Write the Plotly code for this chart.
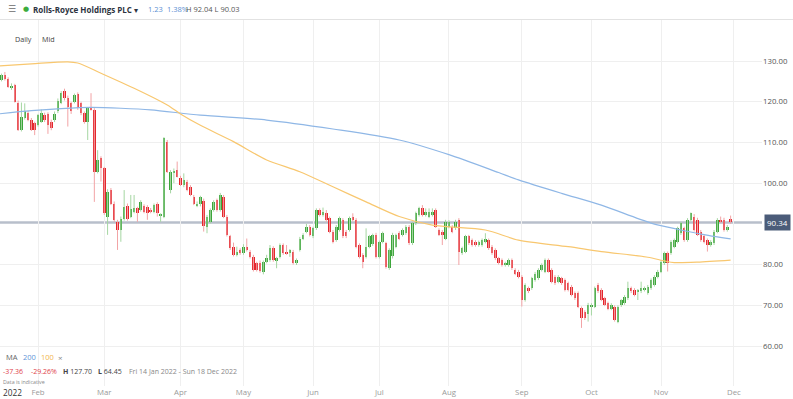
import pandas as pd
import plotly.graph_objects as go

# ---------------- data ----------------
uk_holidays = ["2022-04-15", "2022-04-18", "2022-05-02", "2022-06-02",
               "2022-06-03", "2022-08-29", "2022-09-19"]
axis_days = [d for d in pd.bdate_range("2022-01-14", "2022-12-16")
             if d.strftime("%Y-%m-%d") not in uk_holidays]

month_labels = ["Feb", "Mar", "Apr", "May", "Jun", "Jul", "Aug", "Sep", "Oct", "Nov", "Dec"]
month_numbers = [2, 3, 4, 5, 6, 7, 8, 9, 10, 11, 12]
y_ticks = [60, 70, 80, 100, 110, 120, 130]   # 90.00 sits under the last-price label

opens = [
    127.70, 125.4, 126.5, 125.7, 123.3, 124.1, 119.8, 113.1, 116.0, 117.3,
    115.5, 114.7, 114.3, 115.1, 116.7, 117.0, 115.1, 115.5, 117.6, 119.8,
    122.7, 121.0, 119.6, 120.0, 121.9, 119.6, 117.2, 115.1, 118.4, 118.0,
    102.8, 106.1, 103.6, 91.8, 98.3, 95.0, 90.5, 88.5, 91.3, 94.4,
    91.8, 93.0, 93.8, 93.4, 94.4, 94.2, 93.4, 93.0, 94.9, 91.9,
    91.8, 110.2, 98.3, 102.5, 103.2, 101.2, 99.5, 100.4, 99.1, 96.7,
    94.6, 94.8, 95.6, 89.3, 90.5, 93.4, 95.8, 93.4, 96.7, 91.8,
    86.9, 84.4, 82.4, 83.6, 82.8, 84.4, 83.2, 81.9, 80.3, 80.5,
    78.3, 80.7, 81.1, 84.0, 81.1, 81.9, 84.8, 83.2, 82.8, 83.2,
    80.3, 83.6, 86.4, 88.1, 89.3, 86.9, 88.9, 93.4, 92.2, 92.6,
    91.4, 88.1, 86.0, 88.5, 91.0, 88.1, 88.5, 91.8, 91.0, 84.8,
    82.3, 81.9, 84.4, 85.0, 87.3, 81.9, 85.6, 85.2, 79.1, 82.0,
    84.4, 87.7, 87.3, 87.7, 89.3, 85.2, 90.1, 92.2, 93.8, 92.2,
    91.8, 92.2, 93.4, 88.5, 88.1, 86.4, 89.3, 89.3, 88.9, 91.0,
    82.8, 83.2, 86.9, 86.0, 85.6, 84.8, 84.8, 85.6, 86.0, 84.4,
    83.6, 81.5, 81.1, 79.9, 79.9, 81.1, 78.7, 78.3, 77.0, 71.3,
    74.2, 74.2, 76.2, 76.6, 78.7, 78.3, 81.1, 78.7, 77.0, 75.8,
    76.6, 76.2, 75.4, 74.6, 73.0, 73.0, 69.3, 68.4, 67.9, 69.7,
    69.7, 75.0, 73.8, 71.7, 70.5, 69.2, 69.6, 66.0, 70.0, 70.5,
    71.7, 74.2, 73.8, 73.4, 73.4, 73.8, 73.0, 74.2, 75.0, 77.0,
    78.3, 80.3, 82.8, 82.8, 84.4, 85.6, 87.7, 88.9, 86.0, 91.0,
    91.8, 91.0, 88.1, 86.9, 86.0, 84.8, 85.2, 88.1, 91.0, 91.0,
    88.5, 91.2,
]
highs = [
    127.70, 126.9, 127.3, 126.0, 124.5, 124.4, 120.3, 119.8, 119.6, 117.8,
    116.0, 115.1, 117.0, 118.1, 117.3, 117.4, 115.6, 117.6, 120.8, 122.6,
    123.2, 121.5, 120.0, 122.0, 122.3, 120.0, 117.6, 118.6, 122.1, 118.4,
    108.1, 106.6, 104.0, 98.5, 98.8, 95.5, 91.0, 91.8, 98.3, 95.0,
    97.1, 97.1, 94.2, 95.8, 94.8, 94.6, 93.9, 95.0, 95.3, 92.6,
    111.3, 110.6, 103.2, 103.6, 105.3, 101.8, 102.4, 100.8, 99.5, 97.1,
    95.5, 96.9, 96.2, 92.2, 93.8, 95.8, 96.2, 97.6, 97.1, 92.2,
    87.3, 85.4, 84.4, 84.0, 85.0, 86.4, 83.6, 82.4, 80.7, 81.0,
    81.0, 82.4, 84.8, 84.5, 81.9, 85.2, 85.2, 84.8, 83.8, 83.6,
    81.5, 86.8, 87.7, 90.0, 89.7, 89.3, 93.8, 93.8, 94.0, 93.4,
    91.8, 88.5, 89.7, 91.8, 91.4, 88.5, 91.8, 92.6, 91.4, 85.2,
    82.8, 88.9, 87.3, 87.6, 87.8, 85.9, 88.1, 85.6, 84.0, 87.8,
    87.6, 88.2, 88.9, 89.7, 89.7, 90.5, 93.0, 94.2, 94.6, 93.8,
    93.8, 93.8, 93.8, 88.9, 88.5, 91.0, 90.9, 89.7, 91.0, 91.4,
    84.4, 87.3, 87.3, 86.4, 86.0, 85.9, 86.4, 87.7, 86.4, 84.8,
    84.0, 81.9, 81.5, 80.7, 81.5, 81.5, 79.1, 78.7, 77.4, 75.4,
    74.6, 77.0, 78.2, 79.1, 80.3, 81.5, 81.5, 79.1, 77.4, 77.4,
    77.0, 76.6, 75.8, 75.0, 73.4, 73.4, 69.7, 68.8, 70.6, 70.5,
    74.6, 75.5, 74.2, 72.1, 70.9, 70.5, 70.0, 70.0, 71.5, 72.5,
    75.8, 74.6, 74.2, 74.0, 75.8, 74.6, 75.0, 76.6, 77.4, 78.7,
    81.1, 83.2, 83.2, 86.0, 86.4, 89.3, 90.5, 89.3, 91.4, 92.8,
    92.4, 91.5, 88.5, 87.3, 86.4, 86.0, 88.5, 91.4, 91.8, 91.5,
    89.7, 92.04,
]
lows = [
    125.9, 125.0, 125.2, 123.4, 122.9, 119.8, 112.8, 112.7, 115.6, 115.2,
    112.8, 111.8, 113.9, 114.8, 115.0, 112.1, 113.0, 115.0, 117.2, 119.4,
    120.3, 113.9, 117.0, 119.6, 118.0, 116.7, 114.6, 110.6, 117.8, 95.4,
    102.4, 100.4, 92.2, 87.3, 94.6, 90.5, 83.6, 85.6, 90.8, 90.8,
    91.4, 92.6, 90.5, 93.0, 92.6, 91.0, 92.6, 92.6, 91.8, 90.5,
    91.4, 102.5, 97.5, 100.0, 101.4, 99.3, 99.0, 98.0, 96.8, 94.6,
    94.1, 94.3, 88.1, 87.7, 90.1, 93.0, 93.0, 93.0, 91.4, 86.9,
    83.6, 82.0, 82.0, 82.4, 82.4, 83.2, 81.5, 78.3, 78.3, 78.0,
    77.6, 80.3, 80.7, 80.7, 79.1, 81.5, 82.4, 82.4, 81.9, 80.0,
    79.9, 83.2, 86.0, 87.7, 86.9, 86.5, 88.5, 91.8, 91.8, 90.5,
    87.7, 85.2, 85.6, 88.1, 86.5, 86.5, 88.1, 90.6, 84.0, 81.5,
    79.1, 81.5, 84.0, 84.6, 81.5, 81.5, 85.2, 79.0, 78.7, 81.5,
    84.0, 86.0, 86.9, 87.3, 84.8, 84.8, 89.7, 91.8, 91.8, 91.8,
    91.4, 91.8, 89.0, 87.0, 84.8, 86.0, 88.9, 87.7, 88.5, 79.9,
    82.4, 82.8, 84.8, 84.4, 84.4, 84.4, 84.4, 85.2, 83.6, 82.4,
    81.1, 80.0, 79.5, 79.5, 79.5, 78.7, 77.4, 76.6, 69.7, 70.9,
    73.0, 73.8, 75.8, 76.2, 78.3, 77.9, 78.0, 75.4, 75.0, 75.4,
    75.0, 73.4, 73.4, 72.2, 71.3, 69.3, 64.45, 66.4, 66.0, 67.5,
    69.3, 73.0, 71.0, 69.8, 68.8, 68.8, 66.0, 65.6, 69.6, 70.1,
    71.3, 73.0, 72.2, 71.3, 73.0, 73.4, 72.6, 73.8, 74.6, 76.6,
    77.9, 79.9, 78.3, 82.4, 84.0, 85.2, 87.3, 85.6, 85.6, 90.6,
    88.1, 87.0, 85.6, 85.2, 83.2, 84.4, 84.8, 87.7, 90.2, 88.1,
    88.1, 90.03,
]
closes = [
    126.2, 126.5, 125.5, 123.7, 123.8, 120.0, 113.1, 116.2, 117.6, 115.5,
    113.1, 113.1, 116.7, 117.3, 115.5, 114.3, 113.5, 117.1, 120.3, 122.1,
    120.8, 118.8, 117.6, 121.7, 118.4, 117.2, 115.1, 118.4, 118.0, 102.8,
    105.7, 103.6, 92.6, 97.9, 95.0, 90.9, 88.5, 91.3, 94.2, 91.3,
    93.6, 93.8, 92.6, 95.4, 93.0, 92.6, 93.0, 94.6, 92.6, 92.4,
    111.0, 102.8, 102.8, 102.8, 101.6, 99.5, 100.8, 98.3, 97.1, 95.0,
    95.0, 96.5, 89.5, 91.8, 93.4, 95.4, 93.4, 97.1, 91.8, 87.3,
    84.0, 82.4, 83.2, 82.8, 84.4, 83.6, 81.9, 78.7, 78.7, 78.5,
    80.7, 81.5, 84.0, 81.1, 81.5, 84.8, 82.8, 82.8, 83.6, 80.3,
    81.1, 86.4, 87.3, 89.3, 87.3, 88.9, 93.4, 92.2, 93.0, 90.9,
    88.1, 85.6, 89.3, 91.4, 86.9, 86.9, 91.4, 91.0, 84.4, 81.9,
    80.7, 84.4, 86.9, 87.2, 81.9, 85.6, 87.7, 79.5, 83.6, 87.3,
    87.3, 86.4, 88.5, 89.3, 85.2, 90.1, 92.6, 93.8, 92.2, 93.0,
    93.0, 93.0, 89.3, 87.3, 87.3, 90.5, 90.5, 88.1, 90.5, 83.2,
    84.0, 86.9, 85.2, 84.8, 84.8, 85.6, 86.0, 86.4, 84.0, 82.8,
    81.5, 80.3, 79.9, 80.3, 81.1, 79.1, 77.8, 77.0, 71.3, 75.0,
    73.4, 76.6, 77.8, 78.7, 79.9, 81.1, 78.3, 75.8, 75.4, 77.0,
    75.4, 73.8, 73.8, 72.6, 71.7, 69.7, 66.8, 66.8, 70.1, 70.1,
    74.2, 73.4, 71.3, 70.1, 69.2, 70.1, 66.4, 69.6, 71.3, 72.1,
    74.2, 73.4, 72.5, 73.8, 74.2, 74.2, 74.6, 76.2, 77.0, 78.3,
    80.7, 82.8, 80.3, 85.6, 86.0, 88.9, 90.1, 86.0, 91.0, 92.6,
    88.5, 87.3, 86.0, 85.6, 84.8, 85.6, 88.1, 91.0, 90.6, 88.5,
    89.11, 90.34,
]

# moving averages (trading-day number, value)
ma200_day = [0, 10, 19, 28, 37, 46, 61, 81, 101, 121, 136, 151, 157, 170, 182, 197, 206, 212, 221]
ma200_val = [117.0, 117.8, 118.3, 118.6, 118.4, 118.0, 116.7, 115.5, 113.3, 110.6,
             107.0, 102.6, 100.8, 97.5, 94.6, 90.2, 88.5, 87.5, 86.3]
ma100_day = [0, 10, 21, 24, 31, 41, 51, 55, 61, 71, 81, 91, 101, 111, 121, 131, 147,
             157, 172, 182, 196, 201, 204, 211, 221]
ma100_val = [128.8, 129.3, 129.8, 129.5, 127.0, 123.3, 119.2, 117.0, 114.2, 110.2,
             105.7, 102.8, 99.1, 95.4, 91.8, 89.7, 88.5, 86.0, 84.4, 83.2,
             81.8, 80.9, 80.5, 80.6, 81.1]

n = len(closes)
assert len(opens) == len(highs) == len(lows) == n == 222, (len(opens), len(highs), len(lows), n)
days = list(range(n))
dates = axis_days[:n]
month_idx = [next(i for i, d in enumerate(axis_days) if d.month == m) for m in month_numbers]

# ---------------- styling ----------------
GREEN = "#3da53b"
RED = "#e5262d"
GREEN_W = "#a5d6a2"
RED_W = "#f2a3a5"
FONT = "Open Sans"

PLOT_L, PLOT_R, PLOT_T, PLOT_B = 0, 762, 20, 386
W, H = 793, 399


def px(x):
    return (x - PLOT_L) / (PLOT_R - PLOT_L)


def py(y):
    return (PLOT_B - y) / (PLOT_B - PLOT_T)


fig = go.Figure()

# wicks
for up, col in ((True, GREEN_W), (False, RED_W)):
    xs, ys = [], []
    for i in days:
        if (closes[i] >= opens[i]) == up:
            xs += [i, i, None]
            ys += [lows[i], highs[i], None]
    fig.add_trace(go.Scatter(x=xs, y=ys, mode="lines", line=dict(color=col, width=1),
                             hoverinfo="skip"))

# bodies
fig.add_trace(go.Bar(
    x=days,
    y=[abs(c - o) for o, c in zip(opens, closes)],
    base=[min(o, c) for o, c in zip(opens, closes)],
    width=0.75,
    marker=dict(color=[GREEN if c >= o else RED for o, c in zip(opens, closes)], line=dict(width=0)),
    customdata=[d.strftime("%d %b %Y") for d in dates],
))

# moving averages
fig.add_trace(go.Scatter(x=ma200_day, y=ma200_val, mode="lines",
                         line=dict(color="#8fb7e6", width=1.2, shape="spline", smoothing=0.8)))
fig.add_trace(go.Scatter(x=ma100_day, y=ma100_val, mode="lines",
                         line=dict(color="#f8c76f", width=1.2, shape="spline", smoothing=0.8)))

last = closes[-1]
prev = closes[-2]

shapes = [
    dict(type="line", xref="paper", yref="y", x0=0, x1=1, y0=last, y1=last,
         line=dict(color="#b8bfcb", width=2.5), layer="between"),
    dict(type="line", xref="paper", yref="paper", x0=0, x1=W / PLOT_R,
         y0=py(19.5), y1=py(19.5), line=dict(color="#e2e2e2", width=1)),
]

anns = []


def ann(text, x, y, size=7.5, color="#555", family=FONT, xanchor="left"):
    anns.append(dict(text=text, x=px(x), y=py(y), xref="paper", yref="paper",
                     xanchor=xanchor, yanchor="middle", showarrow=False,
                     font=dict(size=size, color=color, family=family)))


# header
ann("☰", 6, 9, size=9, color="#6b6b6b", family="DejaVu Sans")
ann("●", 21, 9, size=7, color="#3cac3c", family="DejaVu Sans")
ann("<b>Rolls-Royce Holdings PLC</b> ▾", 31, 9, size=8, color="#2d3441")
chg = last - prev
ann(f"{chg:.2f}", 146, 9, size=7.5, color="#5a8fd3")
ann(f"{chg / prev * 100:.2f}%", 165, 9, size=7.5, color="#5a8fd3")
ann(f"H {highs[-1]:.2f} L {lows[-1]:.2f}", 184, 9, size=7.5, color="#555")
ann("Daily", 13, 39, size=7.2, color="#444")
ann("Mid", 40, 39, size=7.2, color="#444")

# bottom-left info
ann("MA", 4, 357, size=7.5, color="#666")
ann("200", 21, 357, size=7.5, color="#5f95d8")
ann("100", 39, 357, size=7.5, color="#f2b54c")
ann("×", 56, 357, size=8, color="#888")
tot = last - opens[0]
ann(f"{tot:.2f}", 1, 371, size=7, color="#e0434b")
ann(f"{tot / opens[0] * 100:.2f}%", 29, 371, size=7, color="#e0434b")
ann(f"<b>H</b> {max(highs):.2f}", 61, 371, size=7, color="#444")
ann(f"<b>L</b> {min(lows):.2f}", 96, 371, size=7, color="#444")
ann("Fri 14 Jan 2022 - Sun 18 Dec 2022", 127, 371, size=7, color="#888")
ann("Data is indicative", 1, 382, size=5.3, color="#888")
ann("2022", 1, 393, size=8.3, color="#333")

# last price label
anns.append(dict(text=f"{last:.2f}", x=1, y=last, xref="paper", yref="y", xanchor="left",
                 yanchor="middle", xshift=2, showarrow=False, bgcolor="#4b5c79",
                 borderpad=2, font=dict(size=8, color="white", family=FONT)))

fig.update_layout(
    width=W, height=H,
    margin=dict(l=PLOT_L, r=W - PLOT_R, t=PLOT_T, b=H - PLOT_B, pad=0),
    plot_bgcolor="white", paper_bgcolor="white",
    showlegend=False, bargap=0, hovermode=False,
    font=dict(family=FONT, size=8, color="#555"),
    shapes=shapes, annotations=anns,
    xaxis=dict(range=[0.534, 230.47], tickmode="array", tickvals=month_idx, ticktext=month_labels,
               showgrid=True, gridcolor="#efefef", gridwidth=1, zeroline=False, showline=False,
               ticks="", tickfont=dict(size=7.8, color="#9a9a9a")),
    yaxis=dict(side="right", range=[50.18, 140.07], tickmode="array", tickvals=y_ticks,
               tickformat=".2f", showgrid=True, gridcolor="#efefef", gridwidth=1,
               zeroline=False, showline=False, ticks="", tickfont=dict(size=7.8, color="#555")),
)

fig.write_html("out.html", config={"displayModeBar": False},
               post_script="document.body.style.margin='0px';document.body.style.padding='0px';")
